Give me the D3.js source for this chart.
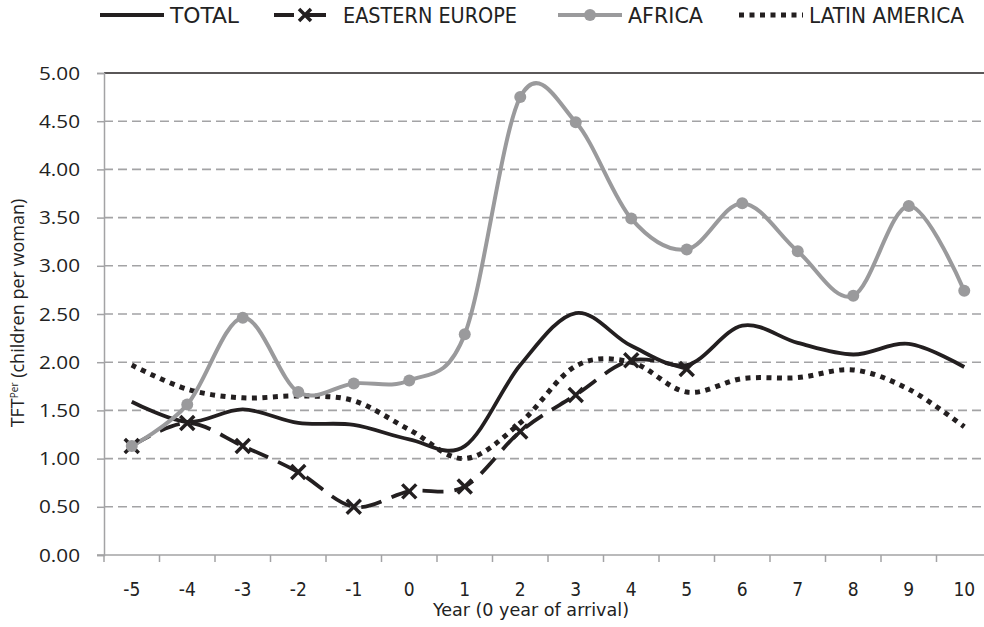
<!DOCTYPE html>
<html>
<head>
<meta charset="utf-8">
<script src="https://cdn.jsdelivr.net/npm/d3@7"></script>
<style>
  body { margin: 0; background: #fff; }
  svg { display: block; }
</style>
</head>
<body>
<div id="chart"></div>
<script>
// years relative to arrival
var years = [-5, -4, -3, -2, -1, 0, 1, 2, 3, 4, 5, 6, 7, 8, 9, 10];
var yTicks = [0, 0.5, 1, 1.5, 2, 2.5, 3, 3.5, 4, 4.5, 5];

// TFT values
var total    = [1.59, 1.38, 1.51, 1.37, 1.35, 1.20, 1.13, 1.97, 2.51, 2.17, 1.97, 2.38, 2.20, 2.08, 2.19, 1.95];
var eastern  = [1.13, 1.37, 1.13, 0.86, 0.50, 0.66, 0.71, 1.28, 1.66, 2.02, 1.93];
var africa   = [1.13, 1.56, 2.46, 1.69, 1.78, 1.81, 2.29, 4.75, 4.49, 3.49, 3.17, 3.65, 3.15, 2.69, 3.62, 2.74];
var latin    = [1.97, 1.72, 1.63, 1.65, 1.60, 1.30, 1.00, 1.37, 1.96, 2.00, 1.69, 1.83, 1.84, 1.92, 1.72, 1.33];

var seriesNames = ["TOTAL", "EASTERN EUROPE", "AFRICA", "LATIN AMERICA"];

var W = 984, H = 627;
var mL = 104, mR = 992, mT = 73, mB = 555;
var black = "#231f20", grey = "#9a9a9c", gridGrey = "#a3a3a5";
var narrow = "'Liberation Sans Narrow', 'DejaVu Sans Condensed', sans-serif";

var svg = d3.select("#chart").append("svg")
  .attr("width", W).attr("height", H);

var x = d3.scalePoint().domain(years).range([mL, mR]).padding(0.5);
var y = d3.scaleLinear().domain([0, 5]).range([mB, mT]);
var step = x.step();

// gridlines
svg.append("g").selectAll("line")
  .data(yTicks.filter(function(d){ return d > 0 && d < 5; }))
  .enter().append("line")
  .attr("x1", mL).attr("x2", W)
  .attr("y1", function(d){ return y(d); }).attr("y2", function(d){ return y(d); })
  .attr("stroke", gridGrey).attr("stroke-width", 1.6)
  .attr("stroke-dasharray", "9,5");

// top border line
svg.append("line")
  .attr("x1", mL).attr("x2", W).attr("y1", y(5)).attr("y2", y(5))
  .attr("stroke", black).attr("stroke-width", 1.5);

// y axis
var yAxis = svg.append("g").attr("transform", "translate(" + mL + ",0)")
  .call(d3.axisLeft(y).tickValues(yTicks).tickSize(7).tickFormat(d3.format(".2f")));
yAxis.select(".domain").attr("stroke", gridGrey).attr("stroke-width", 1.5);
yAxis.selectAll(".tick line").attr("stroke", gridGrey).attr("stroke-width", 1.5);
yAxis.selectAll(".tick text")
  .attr("x", -24)
  .style("font-family", "'Open Sans', sans-serif")
  .style("font-size", "19px").attr("fill", "#222")
  .attr("textLength", 41).attr("lengthAdjust", "spacingAndGlyphs");

// x axis: ticks at category boundaries
var xg = svg.append("g").attr("transform", "translate(0," + mB + ")");
xg.append("line").attr("x1", mL - 7).attr("x2", W).attr("y1", 0).attr("y2", 0)
  .attr("stroke", gridGrey).attr("stroke-width", 1.5);
xg.selectAll(".bt").data(years).enter().append("line")
  .attr("x1", function(d){ return x(d) - step / 2; })
  .attr("x2", function(d){ return x(d) - step / 2; })
  .attr("y1", 0).attr("y2", 7)
  .attr("stroke", gridGrey).attr("stroke-width", 1.5);
xg.selectAll(".lbl").data(years).enter().append("text")
  .attr("x", function(d){ return x(d); })
  .attr("y", 41)
  .attr("text-anchor", "middle")
  .style("font-family", narrow)
  .style("font-size", "19px").attr("fill", "#222")
  .text(function(d){ return d; });

// axis titles
svg.append("text")
  .attr("x", 531).attr("y", 616).attr("text-anchor", "middle")
  .style("font-family", narrow)
  .style("font-size", "18px").attr("fill", "#222")
  .attr("textLength", 196).attr("lengthAdjust", "spacingAndGlyphs")
  .text("Year (0 year of arrival)");

var yt = svg.append("text")
  .attr("transform", "translate(24,313) rotate(-90)")
  .attr("text-anchor", "middle")
  .style("font-family", "'Open Sans', sans-serif")
  .style("font-size", "18px").attr("fill", "#222");
yt.append("tspan").text("TFT");
yt.append("tspan").attr("dy", -6).style("font-size", "10px").text("Per");
yt.append("tspan").attr("dy", 6).text(" (children per woman)");

// lines
var line = d3.line()
  .x(function(d, i){ return x(years[i]); })
  .y(function(d){ return y(d); })
  .curve(d3.curveCardinal.tension(0));

svg.append("path").datum(latin).attr("d", line)
  .attr("fill", "none").attr("stroke", black).attr("stroke-width", 5)
  .attr("stroke-dasharray", "5,5.5");

svg.append("path").datum(eastern).attr("d", line)
  .attr("fill", "none").attr("stroke", black).attr("stroke-width", 3.8)
  .attr("stroke-dasharray", "21,11");

svg.append("path").datum(total).attr("d", line)
  .attr("fill", "none").attr("stroke", black).attr("stroke-width", 3.8);

svg.append("path").datum(africa).attr("d", line)
  .attr("fill", "none").attr("stroke", grey).attr("stroke-width", 4);

function cross(g, cx, cy, s) {
  g.append("path")
    .attr("d", "M" + (cx - s) + "," + (cy - s) + "L" + (cx + s) + "," + (cy + s) +
               "M" + (cx - s) + "," + (cy + s) + "L" + (cx + s) + "," + (cy - s))
    .attr("stroke", black).attr("stroke-width", 3.5).attr("fill", "none");
}

var mk = svg.append("g");
eastern.forEach(function(d, i){ cross(mk, x(years[i]), y(d), 7); });

svg.append("g").selectAll("circle").data(africa).enter().append("circle")
  .attr("cx", function(d, i){ return x(years[i]); })
  .attr("cy", function(d){ return y(d); })
  .attr("r", 6).attr("fill", grey);

// legend
var legendX = [100, 273, 558, 739];
var legendW = [69, 174, 75, 155];
var lg = svg.append("g");
seriesNames.forEach(function(name, i){
  var lx = legendX[i], ly = 15;
  var s = lg.append("line").attr("x1", lx).attr("x2", lx + 64)
    .attr("y1", ly).attr("y2", ly);
  if (i == 0) s.attr("stroke", black).attr("stroke-width", 4);
  if (i == 1) {
    s.attr("stroke", black).attr("stroke-width", 4).attr("stroke-dasharray", "20,12").attr("x1", lx + 1);
    cross(lg, lx + 32, ly, 6);
  }
  if (i == 2) {
    s.attr("stroke", grey).attr("stroke-width", 4);
    lg.append("circle").attr("cx", lx + 32).attr("cy", ly).attr("r", 6).attr("fill", grey);
  }
  if (i == 3) s.attr("stroke", black).attr("stroke-width", 5).attr("stroke-dasharray", "5,5.5");
  lg.append("text")
    .attr("x", lx + 70).attr("y", ly + 8)
    .style("font-family", narrow)
    .style("font-size", "21px").attr("fill", "#222")
    .attr("textLength", legendW[i]).attr("lengthAdjust", "spacingAndGlyphs")
    .text(name);
});
</script>
</body>
</html>
